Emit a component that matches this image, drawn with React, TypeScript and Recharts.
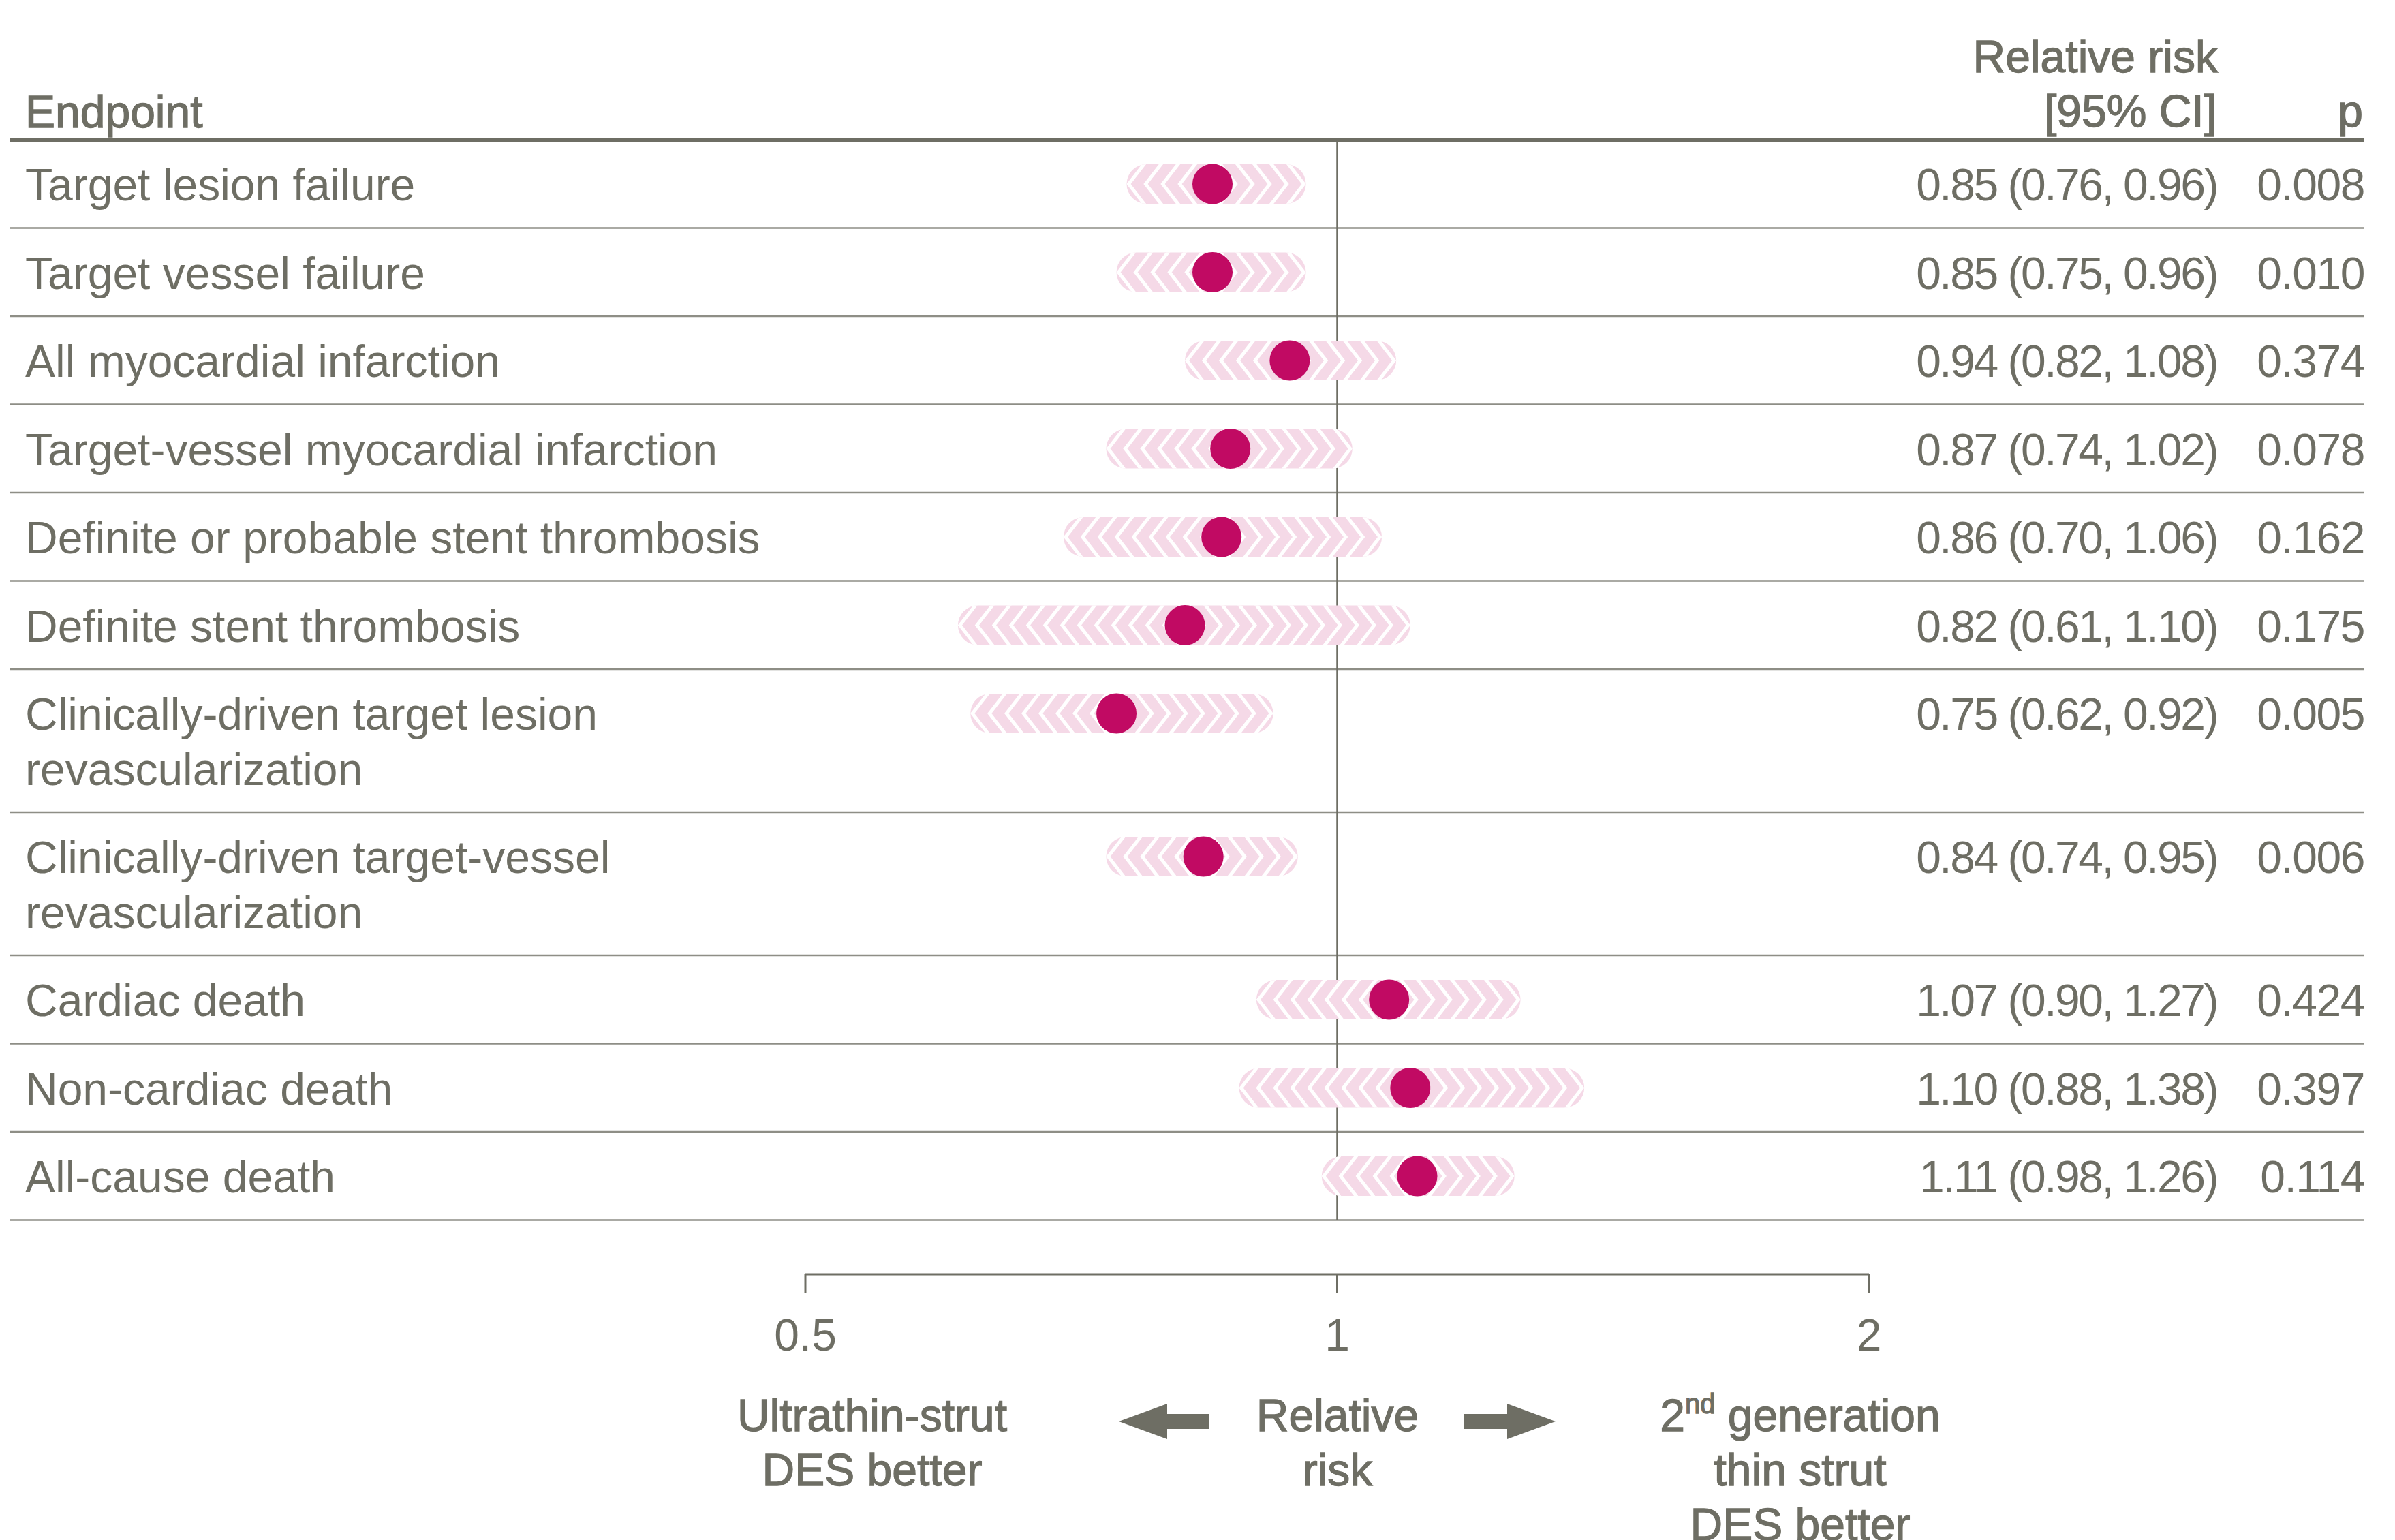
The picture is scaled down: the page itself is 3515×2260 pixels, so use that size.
import React from 'react';
import {
  ComposedChart,
  XAxis,
  YAxis,
  Scatter,
  ReferenceLine,
  ReferenceArea,
} from 'recharts';

// data
const endpoints = [
  'Target lesion failure',
  'Target vessel failure',
  'All myocardial infarction',
  'Target-vessel myocardial infarction',
  'Definite or probable stent thrombosis',
  'Definite stent thrombosis',
  'Clinically-driven target lesion\nrevascularization',
  'Clinically-driven target-vessel\nrevascularization',
  'Cardiac death',
  'Non-cardiac death',
  'All-cause death',
];
const relRisk = [0.85, 0.85, 0.94, 0.87, 0.86, 0.82, 0.75, 0.84, 1.07, 1.1, 1.11];
const ciLow = [0.76, 0.75, 0.82, 0.74, 0.7, 0.61, 0.62, 0.74, 0.9, 0.88, 0.98];
const ciHigh = [0.96, 0.96, 1.08, 1.02, 1.06, 1.1, 0.92, 0.95, 1.27, 1.38, 1.26];
const pValues = [0.008, 0.01, 0.374, 0.078, 0.162, 0.175, 0.005, 0.006, 0.424, 0.397, 0.114];
const xTicks = [0.5, 1, 2];

// layout
const W = 3515;
const H = 2260;
const PLOT_L = 14;
const PLOT_R = 3470;
const PLOT_T = 205;
const PLOT_B = 1870;
const X_ONE = 1962.5;
const PX_PER_DOUBLING = 780.5;
const X_MIN = 2 ** ((PLOT_L - X_ONE) / PX_PER_DOUBLING);
const X_MAX = 2 ** ((PLOT_R - X_ONE) / PX_PER_DOUBLING);
const Y_MAX = PLOT_B - PLOT_T;
const ROW_H = 129.5;
const LINE_H = 80.5;
const CENTER_OFF = 65;
const PILL_HALF = 29;

const GREY = '#6e6e64';
const SEP = '#8e8e86';
const MAGENTA = '#c10a63';
const PINK = '#f5d9e7';
const FONT = "'Liberation Sans', Arial, sans-serif";
const FS = 66;

let acc = 0;
const rows = endpoints.map((label, i) => {
  const nLines = label.split('\n').length;
  const top = acc;
  const h = ROW_H + (nLines - 1) * LINE_H;
  acc += h;
  return {
    label,
    x: relRisk[i],
    y: top + CENTER_OFF,
    bottom: top + h,
    rr: relRisk[i],
    lo: ciLow[i],
    hi: ciHigh[i],
    p: pValues[i],
  };
});
const tableBottom = acc;

const HalfPill = (props: any) => {
  const { x, y, width, height, side, id } = props;
  if (width == null || height == null) return null;
  const r = height / 2;
  const top = y;
  const bot = y + height;
  const mid = y + r;
  const xl = x;
  const xr = x + width;
  const outline =
    side === 'left'
      ? `M${xr},${top} L${xl + r},${top} A${r},${r} 0 0 0 ${xl + r},${bot} L${xr},${bot} Z`
      : `M${xl},${top} L${xr - r},${top} A${r},${r} 0 0 1 ${xr - r},${bot} L${xl},${bot} Z`;
  const chevrons: React.ReactNode[] = [];
  const step = 25;
  const arm = 24;
  if (side === 'left') {
    for (let t = xl + 3, k = 0; t < xr + arm; t += step, k++) {
      chevrons.push(
        <polyline key={k} points={`${t + arm},${top - 2} ${t},${mid} ${t + arm},${bot + 2}`} />
      );
    }
  } else {
    for (let t = xr - 3, k = 0; t > xl - arm; t -= step, k++) {
      chevrons.push(
        <polyline key={k} points={`${t - arm},${top - 2} ${t},${mid} ${t - arm},${bot + 2}`} />
      );
    }
  }
  return (
    <g>
      <defs>
        <clipPath id={id}>
          <path d={outline} />
        </clipPath>
      </defs>
      <path d={outline} fill={PINK} />
      <g clipPath={`url(#${id})`} fill="none" stroke="#fff" strokeWidth={5}>
        {chevrons}
      </g>
    </g>
  );
};

const RowText = (props: any) => {
  const { cy, payload } = props;
  if (cy == null || !payload) return null;
  const lines: string[] = payload.label.split('\n');
  const base = cy + 24;
  return (
    <g fontFamily={FONT} fontSize={FS} fill={GREY}>
      <text x={37} y={base}>
        {lines.map((l, i) => (
          <tspan key={i} x={37} dy={i === 0 ? 0 : LINE_H}>
            {l}
          </tspan>
        ))}
      </text>
      <text x={3254} y={base} textAnchor="end" letterSpacing={-2.5}>
        {`${payload.rr.toFixed(2)} (${payload.lo.toFixed(2)}, ${payload.hi.toFixed(2)})`}
      </text>
      <text x={3470} y={base} textAnchor="end" letterSpacing={-1.5}>
        {payload.p.toFixed(3)}
      </text>
    </g>
  );
};

const Dot = (props: any) => {
  const { cx, cy } = props;
  if (cx == null || cy == null) return null;
  return <circle cx={cx} cy={cy} r={29.5} fill={MAGENTA} />;
};

const TickLabel = (props: any) => {
  const { x, y, payload } = props;
  return (
    <text x={x} y={y + 84} textAnchor="middle" fontFamily={FONT} fontSize={FS} fill={GREY}>
      {payload.value}
    </text>
  );
};

const medium = { stroke: GREY, strokeWidth: 1.3 };

const Overlay = () => (
  <svg
    width={W}
    height={H}
    style={{ position: 'absolute', left: 0, top: 0, pointerEvents: 'none' }}
  >
    <g fontFamily={FONT} fontSize={FS} fill={GREY} {...medium}>
      <text x={37} y={187}>Endpoint</text>
      <text x={3255} y={106} textAnchor="end">Relative risk</text>
      <text x={3253} y={186} textAnchor="end">[95% CI]</text>
      <text x={3468} y={186} textAnchor="end">p</text>

      <text x={1280} y={2100} textAnchor="middle">Ultrathin-strut</text>
      <text x={1280} y={2180} textAnchor="middle">DES better</text>
      <text x={1963} y={2100} textAnchor="middle">Relative</text>
      <text x={1963} y={2180} textAnchor="middle">risk</text>
      <text x={2642} y={2100} textAnchor="middle">
        2<tspan fontSize={40} dy={-26}>nd</tspan>
        <tspan dy={26}> generation</tspan>
      </text>
      <text x={2642} y={2180} textAnchor="middle">thin strut</text>
      <text x={2642} y={2260} textAnchor="middle">DES better</text>
    </g>
    <polygon
      points="1642,2086 1713,2060 1713,2075 1775,2075 1775,2097 1713,2097 1713,2112"
      fill={GREY}
    />
    <polygon
      points="2283,2086 2212,2060 2212,2075 2149,2075 2149,2097 2212,2097 2212,2112"
      fill={GREY}
    />
  </svg>
);

export default function App() {
  return (
    <div
      style={{
        position: 'absolute',
        left: 0,
        top: 0,
        width: W,
        height: H,
        background: '#fff',
        overflow: 'hidden',
      }}
    >
      <ComposedChart
        width={W}
        height={H}
        margin={{ top: PLOT_T, right: W - PLOT_R, bottom: H - PLOT_B - 120, left: PLOT_L }}
      >
        <XAxis
          type="number"
          dataKey="x"
          scale="log"
          domain={[X_MIN, X_MAX]}
          allowDataOverflow
          ticks={xTicks}
          interval={0}
          axisLine={false}
          tickLine={{ stroke: GREY, strokeWidth: 3 }}
          tickSize={28}
          tickMargin={0}
          height={120}
          tick={<TickLabel />}
        />
        <YAxis type="number" dataKey="y" domain={[0, Y_MAX]} reversed hide allowDataOverflow />

        {rows.map((r, i) => (
          <ReferenceLine
            key={`sep-${i}`}
            y={r.bottom}
            stroke={SEP}
            strokeWidth={2.5}
            zIndex={40}
          />
        ))}
        <ReferenceLine y={0} stroke={GREY} strokeWidth={6} zIndex={40} />
        <ReferenceLine
          segment={[
            { x: 1, y: 0 },
            { x: 1, y: tableBottom },
          ]}
          stroke={GREY}
          strokeWidth={2.5}
          zIndex={50}
        />
        <ReferenceLine
          segment={[
            { x: xTicks[0], y: Y_MAX },
            { x: xTicks[xTicks.length - 1], y: Y_MAX },
          ]}
          stroke={GREY}
          strokeWidth={3}
          ifOverflow="visible"
          zIndex={50}
        />

        {rows.map((r, i) => (
          <ReferenceArea
            key={`left-${i}`}
            x1={r.lo}
            x2={r.rr}
            y1={r.y - PILL_HALF}
            y2={r.y + PILL_HALF}
            zIndex={450}
            shape={(p: any) => <HalfPill {...p} side="left" id={`clip-l-${i}`} />}
          />
        ))}
        {rows.map((r, i) => (
          <ReferenceArea
            key={`right-${i}`}
            x1={r.rr}
            x2={r.hi}
            y1={r.y - PILL_HALF}
            y2={r.y + PILL_HALF}
            zIndex={450}
            shape={(p: any) => <HalfPill {...p} side="right" id={`clip-r-${i}`} />}
          />
        ))}

        <Scatter data={rows} shape={<RowText />} isAnimationActive={false} />
        <Scatter data={rows} shape={<Dot />} isAnimationActive={false} />
      </ComposedChart>
      <Overlay />
    </div>
  );
}
